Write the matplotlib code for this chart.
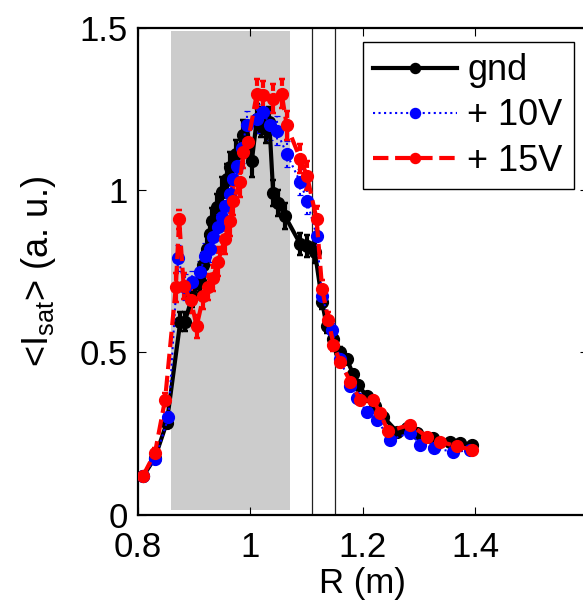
import matplotlib
matplotlib.use("Agg")
import matplotlib.pyplot as plt
from matplotlib.patches import Rectangle

# ---------------- data ----------------
r_gnd = [0.810, 0.831, 0.852, 0.876, 0.884, 0.897, 0.911, 0.917, 0.923, 0.928,
         0.932, 0.941, 0.950, 0.959, 0.964, 0.975, 0.988, 1.003, 1.012, 1.020,
         1.028, 1.034, 1.041, 1.050, 1.062, 1.089, 1.101, 1.115, 1.128, 1.136,
         1.147, 1.160, 1.172, 1.183, 1.192, 1.207, 1.222, 1.236, 1.261, 1.278,
         1.296, 1.325, 1.355, 1.373, 1.394]
i_gnd = [0.118, 0.175, 0.283, 0.595, 0.595, 0.670, 0.720, 0.770, 0.818, 0.865,
         0.905, 0.948, 0.995, 1.035, 1.072, 1.110, 1.170, 1.090, 1.220, 1.210,
         1.190, 1.210, 0.990, 0.960, 0.920, 0.834, 0.828, 0.810, 0.654, 0.580,
         0.540, 0.500, 0.478, 0.432, 0.400, 0.364, 0.333, 0.302, 0.255, 0.268,
         0.252, 0.237, 0.225, 0.221, 0.215]
e_gnd = [0.010, 0.010, 0.015, 0.030, 0.030, 0.030, 0.035, 0.035, 0.040, 0.040,
         0.040, 0.040, 0.045, 0.045, 0.045, 0.045, 0.045, 0.050, 0.045, 0.045,
         0.045, 0.045, 0.040, 0.040, 0.040, 0.035, 0.035, 0.035, 0.020, 0.020,
         0.015, 0.015, 0.015, 0.015, 0.012, 0.012, 0.010, 0.010, 0.008, 0.008,
         0.008, 0.008, 0.008, 0.008, 0.008]

r_10 = [0.810, 0.831, 0.855, 0.872, 0.885, 0.897, 0.911, 0.920, 0.929, 0.934,
        0.943, 0.950, 0.955, 0.964, 0.970, 0.977, 0.985, 0.994, 1.012, 1.023,
        1.035, 1.047, 1.065, 1.089, 1.101, 1.118, 1.128, 1.145, 1.160, 1.178,
        1.190, 1.207, 1.225, 1.249, 1.284, 1.302, 1.326, 1.361, 1.391]
i_10 = [0.120, 0.170, 0.300, 0.790, 0.700, 0.716, 0.747, 0.797, 0.818, 0.855,
        0.886, 0.916, 0.950, 0.988, 1.035, 1.075, 1.130, 1.200, 1.220, 1.242,
        1.200, 1.183, 1.112, 1.025, 0.967, 0.860, 0.673, 0.570, 0.480, 0.395,
        0.360, 0.317, 0.292, 0.230, 0.252, 0.215, 0.205, 0.193, 0.198]
e_10 = [0.010, 0.010, 0.020, 0.040, 0.040, 0.035, 0.035, 0.040, 0.040, 0.040,
        0.040, 0.040, 0.045, 0.045, 0.045, 0.045, 0.045, 0.045, 0.045, 0.045,
        0.045, 0.045, 0.040, 0.040, 0.040, 0.035, 0.025, 0.020, 0.015, 0.015,
        0.012, 0.012, 0.010, 0.010, 0.008, 0.008, 0.008, 0.008, 0.008]

r_15 = [0.810, 0.831, 0.849, 0.868, 0.874, 0.882, 0.895, 0.905, 0.917, 0.926,
        0.934, 0.943, 0.955, 0.964, 0.970, 0.982, 0.988, 0.996, 1.012, 1.023,
        1.041, 1.056, 1.065, 1.089, 1.101, 1.118, 1.128, 1.139, 1.148, 1.160,
        1.178, 1.195, 1.218, 1.231, 1.245, 1.284, 1.314, 1.337, 1.367, 1.394]
i_15 = [0.120, 0.190, 0.354, 0.700, 0.910, 0.704, 0.660, 0.580, 0.673, 0.700,
        0.730, 0.780, 0.849, 0.905, 0.967, 1.025, 1.118, 1.149, 1.298, 1.292,
        1.282, 1.298, 1.200, 1.097, 1.044, 0.911, 0.694, 0.600, 0.524, 0.469,
        0.410, 0.354, 0.354, 0.313, 0.256, 0.277, 0.240, 0.225, 0.210, 0.200]
e_15 = [0.010, 0.015, 0.020, 0.045, 0.030, 0.040, 0.040, 0.035, 0.040, 0.040,
        0.040, 0.045, 0.045, 0.045, 0.045, 0.045, 0.050, 0.050, 0.045, 0.045,
        0.045, 0.045, 0.045, 0.045, 0.045, 0.040, 0.030, 0.025, 0.020, 0.015,
        0.015, 0.012, 0.012, 0.010, 0.010, 0.008, 0.008, 0.008, 0.008, 0.008]

labels = ["gnd", "+ 10V", "+ 15V"]
shade_r = [0.86, 1.07]
shade_i = [0.015, 1.49]
sep_r = [1.110, 1.151]

x_ticks = [0.8, 1.0, 1.2, 1.4]
x_ticklabels = ["0.8", "1", "1.2", "1.4"]
y_ticks = [0, 0.5, 1.0, 1.5]
y_ticklabels = ["0", "0.5", "1", "1.5"]

# ---------------- style ----------------
plt.rcParams['font.family'] = ['Liberation Sans', 'DejaVu Sans']
plt.rcParams['mathtext.fontset'] = 'custom'
plt.rcParams['mathtext.rm'] = 'Liberation Sans'
plt.rcParams['mathtext.it'] = 'Liberation Sans'
plt.rcParams['mathtext.default'] = 'regular'
FS = 25

fig = plt.figure(figsize=(5.83, 6.03), dpi=100)
ax = fig.add_axes([137.5 / 583, (603 - 514.5) / 603, 450.5 / 583, 486.5 / 603])

ax.add_patch(Rectangle((shade_r[0], shade_i[0]), shade_r[1] - shade_r[0],
                       shade_i[1] - shade_i[0], facecolor='#cccccc',
                       edgecolor='none', zorder=0))
for xv in sep_r:
    ax.axvline(xv, color='#222222', lw=0.9, zorder=1)

series = [
    (r_gnd, i_gnd, e_gnd, 'black', '-', 3.0),
    (r_10, i_10, e_10, 'blue', ':', 1.5),
    (r_15, i_15, e_15, 'red', '--', 3.0),
]
handles = []
for (xs, ys, es, col, ls, lw), lab in zip(series, labels):
    cont = ax.errorbar(xs, ys, yerr=es, color=col, ls=ls, lw=lw, marker='o',
                       ms=8.5, mec=col, mfc=col, elinewidth=lw, capsize=2.5,
                       capthick=lw * 0.6, label=lab, zorder=3)
    for coll in cont[2]:
        coll.set_linestyle(ls)
    handles.append(cont[0])

ax.set_xlim(0.8, 1.6)
ax.set_ylim(0, 1.5)
ax.set_xticks(x_ticks)
ax.set_xticklabels(x_ticklabels)
ax.set_yticks(y_ticks)
ax.set_yticklabels(y_ticklabels)
ax.tick_params(direction='in', length=6, width=0.8, top=True, right=True,
               labelsize=FS)
ax.tick_params(axis='x', pad=12)
ax.tick_params(axis='y', pad=7)
for sp in ax.spines.values():
    sp.set_linewidth(1.6)

ax.set_xlabel("R (m)", fontsize=FS, labelpad=2)
ax.set_ylabel(r"<I$_{sat}$> (a. u.)", fontsize=26)
ax.yaxis.set_label_coords(-0.176, 0.5)

leg = ax.legend(handles, labels, loc='upper right', fontsize=26,
                frameon=True, fancybox=False, framealpha=1, edgecolor='black',
                handlelength=2.3, handletextpad=0.3, borderpad=0.3,
                labelspacing=0.28, borderaxespad=0.4, markerscale=0.85)
leg.get_frame().set_linewidth(1.0)

fig.savefig("out.png", dpi=100)
